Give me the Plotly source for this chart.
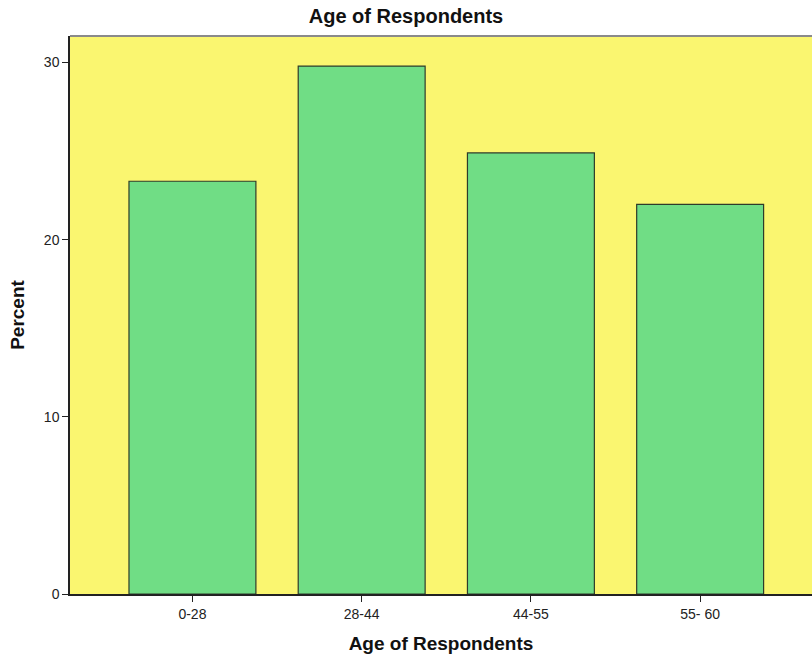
import plotly.graph_objects as go

# Age groups and the share of respondents in each (percent)
age_groups = ["0-28", "28-44", "44-55", "55- 60"]
percent = [23.3, 29.8, 24.9, 22.0]

chart_title = "Age of Respondents"
x_title = "Age of Respondents"
y_title = "Percent"
y_ticks = [0, 10, 20, 30]

FONT = "Liberation Sans, Arial, sans-serif"

fig = go.Figure(
    go.Bar(
        x=list(range(len(age_groups))),
        y=percent,
        width=0.75,
        marker=dict(color="#70DD85", line=dict(color="#2E3B2A", width=1.2)),
        hoverinfo="skip",
    )
)

fig.update_layout(
    width=812,
    height=661,
    margin=dict(l=70, r=0, t=36, b=67),
    paper_bgcolor="white",
    plot_bgcolor="#FAF670",
    showlegend=False,
    title=dict(
        text=chart_title,
        x=0.5,
        xanchor="center",
        y=1 - 16 / 661,
        yanchor="middle",
        font=dict(family=FONT, size=20, color="#111111", weight="bold"),
    ),
    font=dict(family=FONT, color="#222222"),
    bargap=0.25,
)

fig.update_xaxes(
    range=[-0.7235, 3.661],
    tickmode="array",
    tickvals=list(range(len(age_groups))),
    ticktext=age_groups,
    ticks="outside",
    ticklen=6,
    tickwidth=1,
    tickcolor="#222222",
    tickfont=dict(size=14, color="#222222"),
    showline=True,
    linecolor="#222222",
    linewidth=1.5,
    showgrid=False,
    zeroline=False,
    title=dict(
        text=x_title,
        font=dict(size=19, color="#111111", weight="bold"),
        standoff=16,
    ),
)

fig.update_yaxes(
    range=[0, 31.5],
    tickmode="array",
    tickvals=y_ticks,
    ticks="outside",
    ticklen=6,
    tickwidth=1,
    tickcolor="#222222",
    tickfont=dict(size=14, color="#222222"),
    showline=True,
    linecolor="#222222",
    linewidth=1.5,
    showgrid=False,
    zeroline=False,
    title=dict(
        text=y_title,
        font=dict(size=19, color="#111111", weight="bold"),
        standoff=14,
    ),
)

# grey frame line along the top of the plotting area
fig.add_shape(
    type="line",
    xref="paper",
    yref="paper",
    x0=0,
    x1=1,
    y0=1,
    y1=1,
    line=dict(color="#8A8A8A", width=2),
)

fig.write_html("out.html")
